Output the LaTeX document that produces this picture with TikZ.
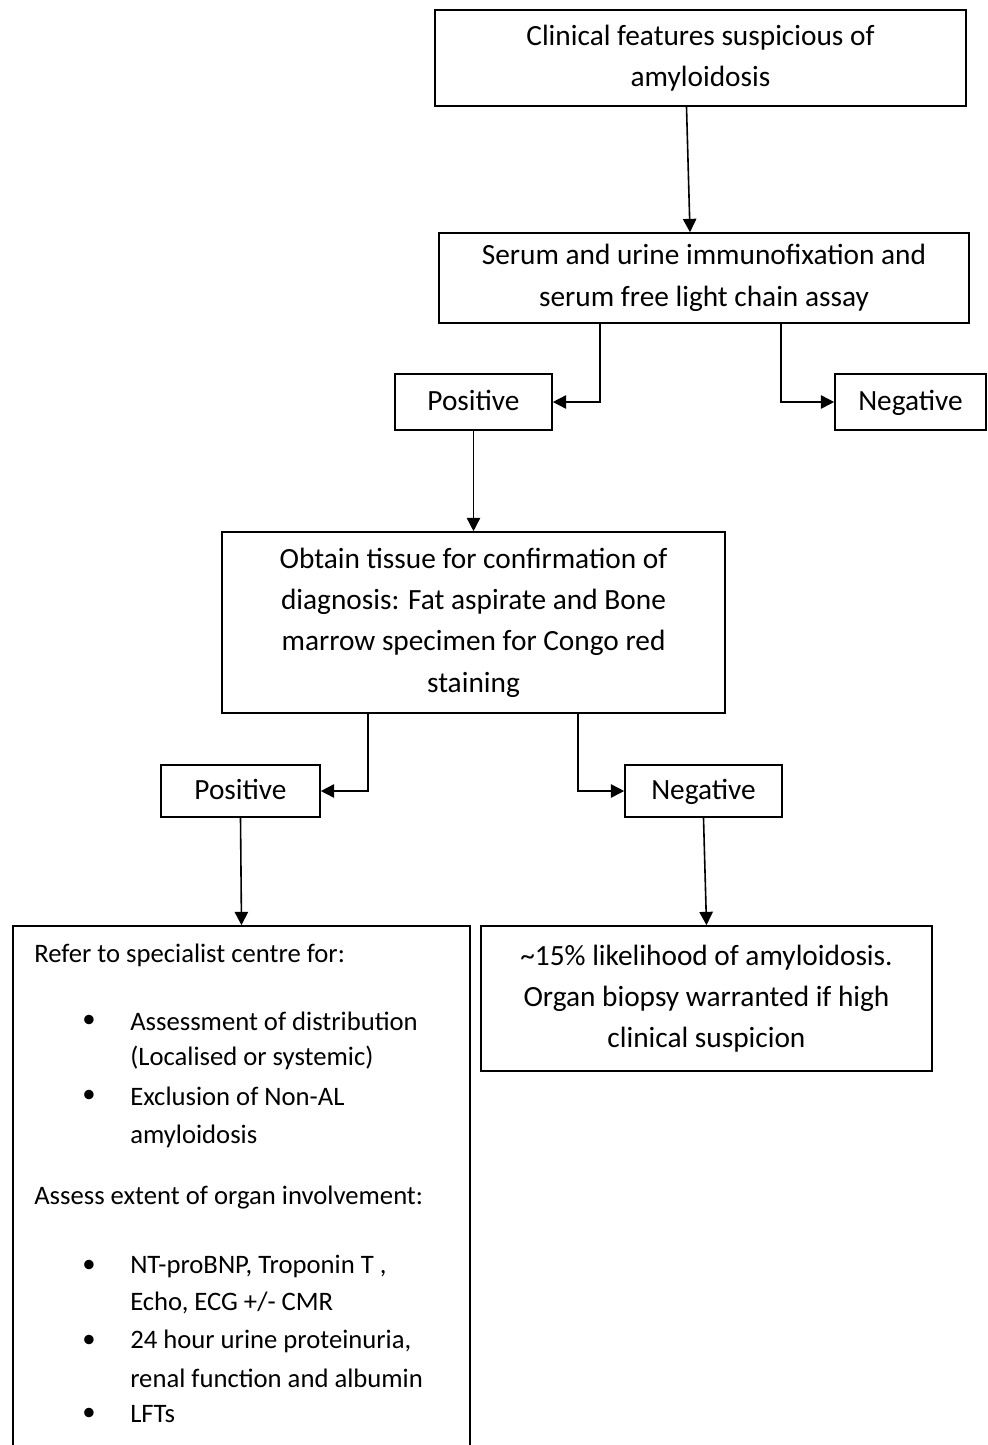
\documentclass[tikz,border=0pt]{standalone}
\usepackage{fontspec}
\setmainfont{Carlito}
\usepackage{tikz}
\usetikzlibrary{arrows.meta}

\tikzset{
  box/.style={draw, line width=1.2pt, align=center, inner sep=0pt,
    font=\fontsize{22}{31}\selectfont},
  tag/.style={box, execute at begin node=\strut},
  txt/.style={anchor=west, inner sep=0pt, font=\fontsize{20}{28}\selectfont},
  arr/.style={line width=1.2pt, -{Triangle[length=10pt,width=10pt]}}
}

\begin{document}
\begin{tikzpicture}[x=0.75pt,y=0.75pt,yscale=-1,xscale=1]
        \useasboundingbox (0,0) rectangle (988,1445);
        \clip (0,0) rectangle (988,1445);
        % boxes
        \node[box, minimum width=398.25pt, minimum height=72pt] (clin) at (700.5,58) {Clinical features suspicious of\\amyloidosis};
        \node[box, minimum width=397.5pt, minimum height=67.5pt] (serum) at (704,278) {Serum and urine immunofixation and\\serum free light chain assay};
        \node[tag, minimum width=117.75pt, minimum height=42pt] (pos1) at (473.5,402) {Positive};
        \node[tag, minimum width=113.25pt, minimum height=42pt] (neg1) at (910.5,402) {Negative};
        \node[box, minimum width=377.25pt, minimum height=135.75pt] (tissue) at (473.5,622.5) {Obtain tissue for confirmation of\\diagnosis: Fat aspirate and Bone\\marrow specimen for Congo red\\staining};
        \node[tag, minimum width=119.25pt, minimum height=39pt] (pos2) at (240.5,791) {Positive};
        \node[tag, minimum width=117.75pt, minimum height=39pt] (neg2) at (703.5,791) {Negative};
        \node[box, minimum width=342.75pt, minimum height=400.5pt] (refer) at (241.5,1193) {};
        \node[box, minimum width=338.25pt, minimum height=108.75pt] (likely) at (706.5,998.5) {\textasciitilde15\% likelihood of amyloidosis.\\Organ biopsy warranted if high\\clinical suspicion};
        % text of the specialist box
        \node[txt] (r1) at (34,955) {Refer to specialist centre for:};
        \node[txt] (b1) at (82,1021) {\textbullet};
        \node[txt] (r2) at (130,1021) {Assessment of distribution};
        \node[txt] (r3) at (130,1058) {(Localised or systemic)};
        \node[txt] (b2) at (82,1096) {\textbullet};
        \node[txt] (r4) at (130,1096) {Exclusion of Non-AL};
        \node[txt] (r5) at (130,1136) {amyloidosis};
        \node[txt] (r6) at (34,1198) {Assess extent of organ involvement:};
        \node[txt] (b3) at (82,1266) {\textbullet};
        \node[txt] (r7) at (130,1266) {NT-proBNP, Troponin T ,};
        \node[txt] (r8) at (130,1303) {Echo, ECG +/- CMR};
        \node[txt] (b4) at (82,1341) {\textbullet};
        \node[txt] (r9) at (130,1341) {24 hour urine proteinuria,};
        \node[txt] (r10) at (130,1378) {renal function and albumin};
        \node[txt] (b5) at (82,1414) {\textbullet};
        \node[txt] (r11) at (130,1414) {LFTs};
        % connectors
        \draw[arr] ([xshift=-10.5pt]clin.south) -- ([xshift=-10.5pt]serum.north);
        \draw[arr] ([xshift=-78pt]serum.south) |- (pos1.east);
        \draw[arr] ([xshift=57.75pt]serum.south) |- (neg1.west);
        \draw[arr] (pos1.south) -- (tissue.north);
        \draw[arr] ([xshift=-79.1pt]tissue.south) |- (pos2.east);
        \draw[arr] ([xshift=78.4pt]tissue.south) |- (neg2.west);
        \draw[arr] (pos2.south) -- (refer.north);
        \draw[arr] (neg2.south) -- (likely.north);
    \end{tikzpicture}
\end{document}
